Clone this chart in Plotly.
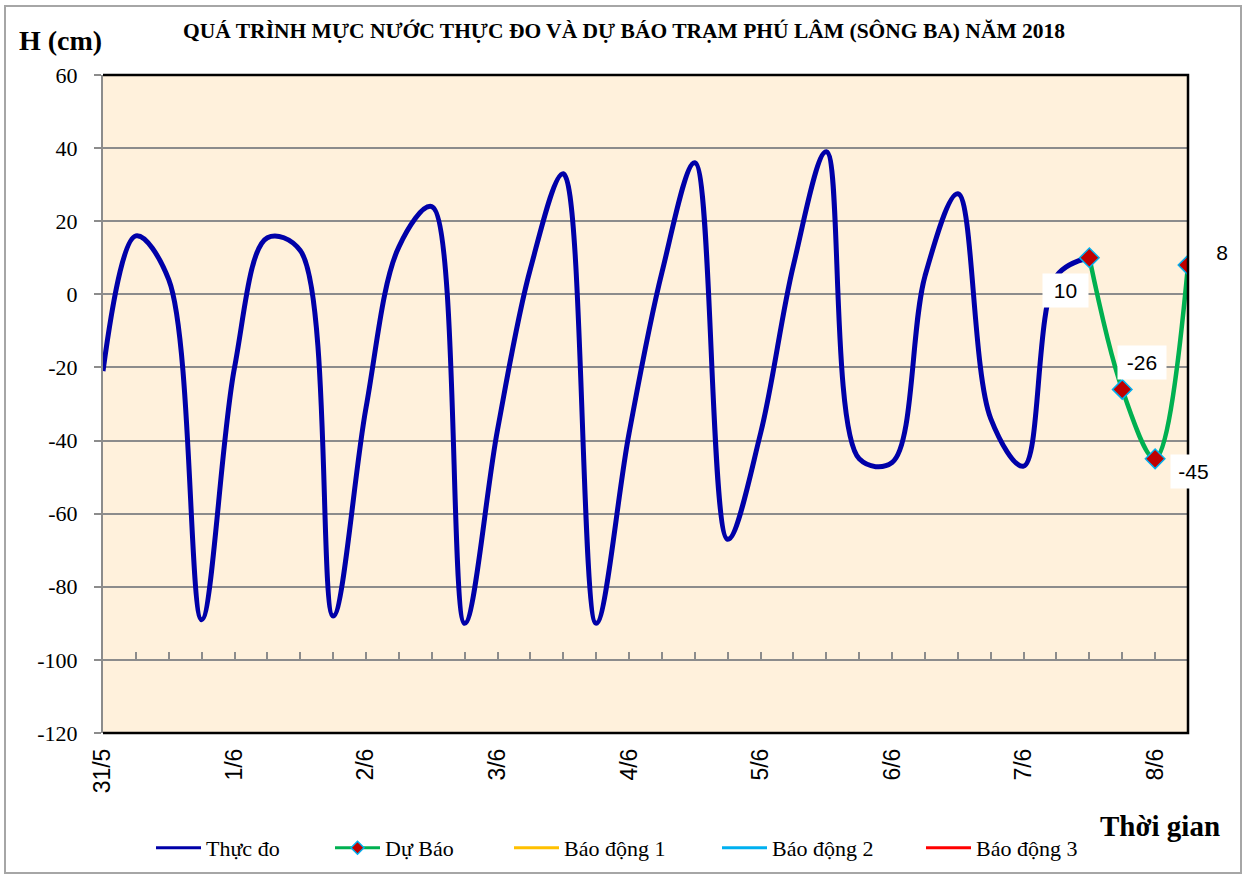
import plotly.graph_objects as go

# ---- data (6-hourly steps, index 0 = 31/5 00h) ----
day_labels = ["31/5", "1/6", "2/6", "3/6", "4/6", "5/6", "6/6", "7/6", "8/6"]
steps_per_day = 4

observed = [-21, 16, 4, -89, -20, 15.5, 12, -88, -31, 13, 24, -90, -37, 7, 33,
            -90, -38, 6, 36, -67, -38, 8, 39, -45, -46, 5, 27.5, -34, -47, 5, 10]
forecast = [10, -26, -45, 8]
forecast_start = len(observed) - 1

obs_x = list(range(len(observed)))
fc_x = list(range(forecast_start, forecast_start + len(forecast)))
n_total = forecast_start + len(forecast)

y_ticks = list(range(-120, 61, 20))

alarm_names = ["Báo động 1", "Báo động 2", "Báo động 3"]
alarm_colors = ["#FFC000", "#00B0F0", "#FF0000"]

# ---- geometry ----
W, H = 1248, 877
L, R, T, B = 103, 60, 75, 144
pw, ph = W - L - R, H - T - B


def px(xp):
    return (xp - L) / pw


def py(yp):
    return (H - B - yp) / ph


SERIF = "Liberation Serif"
SANS = "Liberation Sans"
OBS_COL = "#0000A8"
FC_COL = "#00B050"

fig = go.Figure()
fig.add_trace(go.Scatter(
    x=obs_x, y=observed, mode="lines", name="Thực đo", showlegend=False,
    line=dict(color=OBS_COL, width=5, shape="spline", smoothing=1.0),
))
fig.add_trace(go.Scatter(
    x=fc_x, y=forecast, mode="lines+markers", name="Dự Báo", showlegend=False,
    line=dict(color=FC_COL, width=4.5, shape="spline", smoothing=1.0),
    marker=dict(symbol="diamond", size=15, color="#C00000",
                line=dict(color="#00B0F0", width=1.5)),
))

# legend entries (one legend each, placed like the original)
legend_x = [151, 330, 509, 717, 921]
legend_items = [
    dict(name="Thực đo", mode="lines", line=dict(color=OBS_COL, width=3)),
    dict(name="Dự Báo", mode="lines+markers", line=dict(color=FC_COL, width=3),
         marker=dict(symbol="diamond", size=10, color="#C00000",
                     line=dict(color="#00B0F0", width=1.5))),
] + [dict(name=nm, mode="lines", line=dict(color=c, width=3))
     for nm, c in zip(alarm_names, alarm_colors)]

legend_layout = {}
for i, (item, lx) in enumerate(zip(legend_items, legend_x)):
    key = "legend" if i == 0 else f"legend{i + 1}"
    fig.add_trace(go.Scatter(x=[None], y=[None], legend=key, showlegend=True,
                             xaxis="x2", **item))
    legend_layout[key] = dict(
        x=px(lx), y=py(848), xanchor="left", yanchor="middle",
        orientation="h", bgcolor="rgba(0,0,0,0)", itemwidth=45,
        font=dict(family=SERIF, size=22, color="#000000"),
    )

# data labels on forecast points
label_pos = [
    dict(xanchor="right", yanchor="top", xshift=0, yshift=-15, width=35),
    dict(xanchor="left", yanchor="bottom", xshift=-5, yshift=9, width=38),
    dict(xanchor="left", yanchor="top", xshift=15, yshift=5, width=35),
    dict(xanchor="left", yanchor="middle", xshift=16, yshift=13, width=24),
]
for xv, yv, pos in zip(fc_x, forecast, label_pos):
    fig.add_annotation(
        x=xv, y=yv, text=str(yv), showarrow=False,
        font=dict(family=SANS, size=21, color="#000000"),
        bgcolor="#FFFFFF", borderpad=5, height=23, **pos,
    )

# titles
fig.add_annotation(
    x=px(624), y=py(31), xref="paper", yref="paper", showarrow=False,
    text="<b>QUÁ TRÌNH MỰC NƯỚC THỰC ĐO VÀ DỰ BÁO TRẠM PHÚ LÂM (SÔNG BA) NĂM 2018</b>",
    font=dict(family=SERIF, size=21.5, color="#000000"),
    xanchor="center", yanchor="middle",
)
fig.add_annotation(
    x=px(60), y=py(41), xref="paper", yref="paper", showarrow=False,
    text="<b>H (cm)</b>", font=dict(family=SERIF, size=28, color="#000000"),
    xanchor="center", yanchor="middle",
)
fig.add_annotation(
    x=px(1160), y=py(826), xref="paper", yref="paper", showarrow=False,
    text="<b>Thời gian</b>", font=dict(family=SERIF, size=29, color="#000000"),
    xanchor="center", yanchor="middle",
)

# plot-area border (top/right/bottom black) and outer chart border
fig.add_shape(type="path", xref="paper", yref="paper",
              path="M 0 1 L 1 1 L 1 0 L 0 0",
              line=dict(color="#000000", width=2.5), layer="above")
fig.add_shape(type="rect", xref="paper", yref="paper",
              x0=px(5), x1=px(1241), y0=py(873), y1=py(6),
              line=dict(color="#A6A6A6", width=2), layer="below")

ymin, ymax = y_ticks[0], y_ticks[-1]
cross = -100
tickvals = [i * steps_per_day for i in range(len(day_labels))]

fig.update_layout(
    width=W, height=H,
    margin=dict(l=L, r=R, t=T, b=B, autoexpand=False),
    paper_bgcolor="#FFFFFF",
    plot_bgcolor="#FFF1DC",
    showlegend=True,
    xaxis=dict(
        range=[0, n_total - 1], tickmode="array", tickvals=tickvals,
        ticktext=day_labels, tickangle=-90, ticks="", showgrid=False,
        zeroline=False, showline=False, ticklabelstandoff=10,
        tickfont=dict(family=SANS, size=23, color="#000000"),
    ),
    xaxis2=dict(
        overlaying="x", matches="x", anchor="free",
        position=(cross - ymin) / (ymax - ymin),
        range=[0, n_total - 1], tickmode="linear", tick0=0, dtick=1,
        ticks="inside", ticklen=7, tickwidth=1.5, tickcolor="#8C8C8C",
        showticklabels=False, showgrid=False, zeroline=False,
        showline=True, linecolor="#8C8C8C", linewidth=2,
    ),
    yaxis=dict(
        range=[ymin, ymax], tickmode="array", tickvals=y_ticks,
        ticktext=[str(v) for v in y_ticks],
        showgrid=True, gridcolor="#8C8C8C", gridwidth=1.5,
        zeroline=False, showline=True, linecolor="#8C8C8C", linewidth=2,
        ticks="outside", ticklen=7, tickcolor="#8C8C8C", tickwidth=1.5,
        ticklabelstandoff=12,
        tickfont=dict(family=SERIF, size=22, color="#000000"),
    ),
    **legend_layout,
)

fig.write_html("out.html", config={"displayModeBar": False},
               post_script="document.body.style.margin='0';")
